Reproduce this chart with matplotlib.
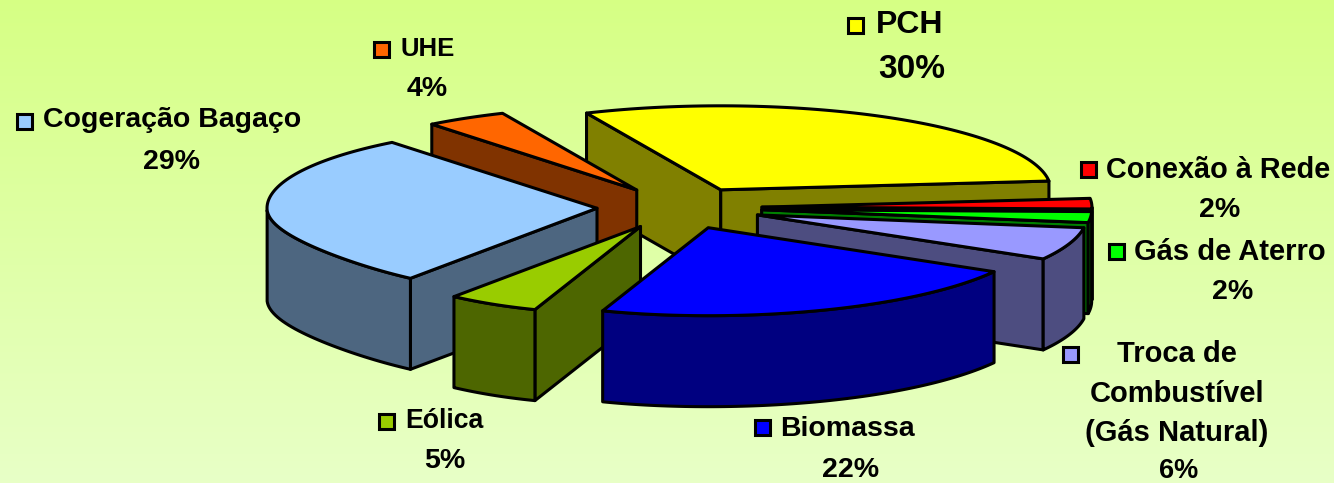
import numpy as np
import matplotlib
matplotlib.use("Agg")
import matplotlib.pyplot as plt
from matplotlib.patches import Polygon, Rectangle

# slices, clockwise from the start angle
names = ["PCH", "Conexão à Rede", "Gás de Aterro", "Troca de Combustível (Gás Natural)",
         "Biomassa", "Eólica", "Cogeração Bagaço", "UHE"]
shares = [30, 2, 2, 6, 22, 5, 29, 4]
top_colors = ["#FFFF00", "#FF0000", "#00FF00", "#9999FF", "#0000FF", "#99CC00", "#99CCFF", "#FF6600"]
side_colors = ["#808000", "#800000", "#008000", "#4D4D80", "#000080", "#4D6600", "#4D6680", "#803300"]

# back to front
draw_order = [0, 7, 1, 2, 3, 6, 5, 4]

# pie geometry, in pixels
W, H = 1334, 483
CX, CY = 679.5, 208
RX = 330
RY_BACK, RY_FRONT = 84, 88
DEPTH = 91
EXPLODE = 0.25
START = 114


def rim_offset(angle):
    """Offset of a rim point from the apex, front left pulled in a bit for the perspective"""
    a = np.radians(angle)
    c, s = np.cos(a), np.sin(a)
    squeeze = np.where((c < 0) & (s < 0), 1 - 0.07 * np.sin(2 * a) ** 2, 1.0)
    ry = np.where(s < 0, RY_FRONT, RY_BACK)
    return RX * c * squeeze, -ry * s


def draw_slice(ax, a0, a1, top, side, z):
    """a0 > a1, going clockwise"""
    m = np.radians((a0 + a1) / 2)
    apex = np.array([CX + EXPLODE * RX * np.cos(m), CY - EXPLODE * RY_BACK * np.sin(m)])
    t = np.linspace(a0, a1, 80)
    ox, oy = rim_offset(t)
    rim = np.column_stack([apex[0] + ox, apex[1] + oy])
    down = np.array([0, DEPTH])
    style = dict(edgecolor="black", linewidth=2.2, joinstyle="round", zorder=z)
    # radial walls, only when they face us
    if np.cos(np.radians(a0)) < 0:
        p = rim[0]
        ax.add_patch(Polygon([apex, p, p + down, apex + down], facecolor=side, **style))
    if np.cos(np.radians(a1)) > 0:
        p = rim[-1]
        ax.add_patch(Polygon([apex, p, p + down, apex + down], facecolor=side, **style))
    # outer wall, only the part facing us
    front = rim[np.sin(np.radians(t)) <= 0]
    if len(front) > 1:
        ax.add_patch(Polygon(np.vstack([front, (front + down)[::-1]]), facecolor=side, **style))
    ax.add_patch(Polygon(np.vstack([apex, rim]), facecolor=top, **style))


fig = plt.figure(figsize=(W / 100, H / 100), dpi=100)
ax = fig.add_axes([0, 0, 1, 1])
ax.set_xlim(0, W)
ax.set_ylim(H, 0)
ax.axis("off")

# background gradient
grad = np.linspace(0, 1, 256)[:, None]
c0, c1 = np.array([0.84, 1.0, 0.52]), np.array([0.91, 1.0, 0.78])
ax.imshow(c0 + (c1 - c0) * grad[:, :, None], extent=[0, W, H, 0], aspect="auto", zorder=0)

edges = START - np.cumsum([0] + shares) * 3.6
for n, i in enumerate(draw_order):
    draw_slice(ax, edges[i], edges[i + 1], top_colors[i], side_colors[i], 2 + n)

# labels
label_lines = [["PCH"], ["Conexão à Rede"], ["Gás de Aterro"], ["Troca de", "Combustível", "(Gás Natural)"],
               ["Biomassa"], ["Eólica"], ["Cogeração Bagaço"], ["UHE"]]
key_pos = [(855, 25), (1088, 169), (1116, 251), (1070, 354), (762, 427), (386, 421), (24, 121), (381, 49)]
text_pos = [(876, 25), (1106, 170), (1134, 252), (1177, 354), (780, 429), (405, 421), (43, 120), (400, 49)]
pct_pos = [(912, 70), (1220, 210), (1233, 292), (1179, 471), (851, 470), (445, 461), (172, 162), (427, 89)]
sizes = [23, 20.8, 21, 21, 20.5, 19.2, 20.5, 18.5]
pct_sizes = [24, 20.5, 20.5, 19.5, 20.5, 20.5, 20.5, 20.5]
font = dict(family="Liberation Sans", fontweight="bold", color="black", zorder=20)

for i in range(len(names)):
    x, y = key_pos[i]
    ax.add_patch(Rectangle((x - 7.5, y - 7.5), 15, 15, facecolor=top_colors[i],
                           edgecolor="black", linewidth=2.2, zorder=20))
    lines = label_lines[i]
    if len(lines) == 1:
        ax.text(text_pos[i][0], text_pos[i][1], lines[0], fontsize=sizes[i],
                ha="left", va="center", **font)
    else:
        for k, line in enumerate(lines):
            ax.text(text_pos[i][0], text_pos[i][1] + k * 39.5, line, fontsize=sizes[i],
                    ha="center", va="center", **font)
    ax.text(pct_pos[i][0], pct_pos[i][1], f"{shares[i]}%", fontsize=pct_sizes[i],
            ha="center", va="center", **font)

fig.savefig("out.png", dpi=100)
